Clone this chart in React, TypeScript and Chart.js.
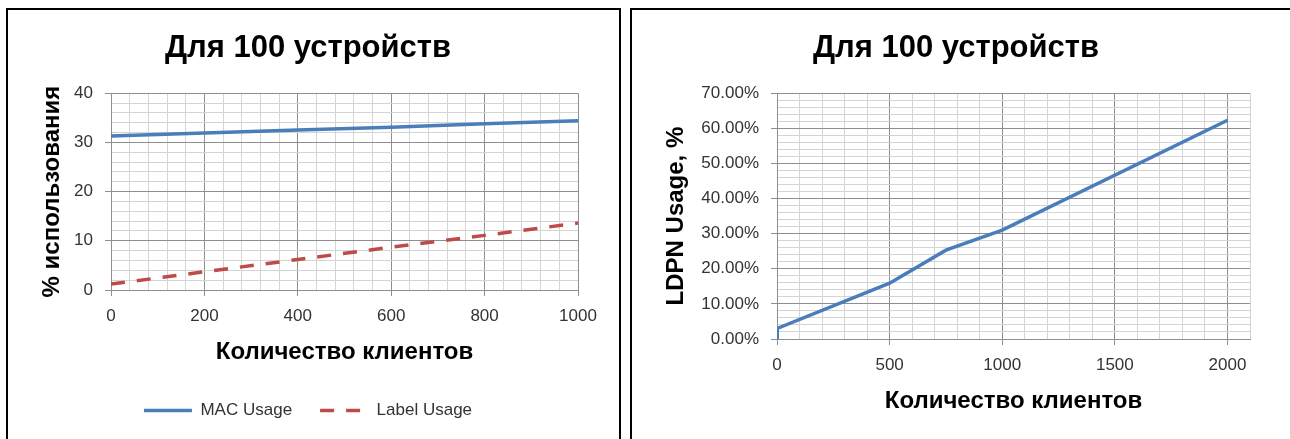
import React, { useEffect, useRef } from "react";
import { Chart, registerables } from "chart.js";

Chart.register(...registerables);

const FONT = "'Liberation Sans', Arial, sans-serif";

// ---- texts ----
const chartTitle = "Для 100 устройств";
const xAxisTitle = "Количество клиентов";
const leftYAxisTitle = "% использования";
const rightYAxisTitle = "LDPN Usage, %";
const macLabel = "MAC Usage";
const labelLabel = "Label Usage";

// ---- left chart data ----
const clients = [0, 200, 400, 600, 800, 1000];
const macUsage = [31.3, 31.9, 32.5, 33.1, 33.8, 34.4];
const labelUsage = [1.2, 3.7, 6.2, 8.7, 11.1, 13.6];

// ---- right chart data (percent) ----
const ldpnClients = [0, 1, 500, 750, 1000, 2000];
const ldpnUsage = [0, 3.0, 15.9, 25.3, 31.0, 62.3];

const BLUE = "#4A7EBB";
const RED = "#BE4B48";
const MAJOR = "#8e8e8e";
const MINOR = "#d4d4d4";
const TICK_TEXT = "#333333";

function isMultiple(v: number, m: number) {
  return Math.abs(v / m - Math.round(v / m)) < 1e-6;
}

function gridOpts(major: number) {
  return {
    color: (ctx: any) => (ctx.tick && !isMultiple(ctx.tick.value, major) ? MINOR : MAJOR),
    tickColor: (ctx: any) =>
      ctx.tick && !isMultiple(ctx.tick.value, major) ? "rgba(0,0,0,0)" : MAJOR,
    tickLength: 6,
    lineWidth: 1,
  };
}

const tickFont = { family: FONT, size: 17 };
const axisTitleFont = { family: FONT, size: 24, weight: "bold" as const };
const titleOpts = {
  display: true,
  text: chartTitle,
  color: "#000",
  font: { family: FONT, size: 31, weight: "bold" as const },
  padding: { top: 20, bottom: 26 },
};

function makeLeftConfig(): any {
  return {
    type: "line",
    data: {
      datasets: [
        {
          label: macLabel,
          data: clients.map((x, i) => ({ x, y: macUsage[i] })),
          borderColor: BLUE,
          backgroundColor: BLUE,
          borderWidth: 3.5,
          pointRadius: 0,
          tension: 0,
          fill: false,
        },
        {
          label: labelLabel,
          data: clients.map((x, i) => ({ x, y: labelUsage[i] })),
          borderColor: RED,
          backgroundColor: RED,
          borderWidth: 3.5,
          borderDash: [14, 12],
          pointRadius: 0,
          tension: 0,
          fill: false,
        },
      ],
    },
    options: {
      responsive: false,
      animation: false,
      layout: { padding: { left: 30, right: 41, top: 0, bottom: 10 } },
      plugins: {
        title: titleOpts,
        tooltip: { enabled: false },
        legend: {
          position: "bottom",
          labels: {
            usePointStyle: true,
            pointStyle: "line",
            pointStyleWidth: 48,
            padding: 28,
            color: TICK_TEXT,
            font: { family: FONT, size: 17 },
            generateLabels: (chart: any) =>
              chart.data.datasets.map((ds: any, i: number) => ({
                text: ds.label,
                strokeStyle: ds.borderColor,
                fillStyle: ds.borderColor,
                lineWidth: ds.borderWidth,
                lineDash: ds.borderDash || [],
                lineDashOffset: 0,
                lineCap: "butt",
                pointStyle: "line",
                fontColor: TICK_TEXT,
                hidden: false,
                datasetIndex: i,
              })),
          },
        },
      },
      scales: {
        x: {
          type: "linear",
          min: 0,
          max: 1000,
          ticks: {
            stepSize: 40,
            autoSkip: false,
            maxRotation: 0,
            padding: 10,
            color: TICK_TEXT,
            font: tickFont,
            callback: (v: number) => (isMultiple(v, 200) ? String(v) : ""),
          },
          grid: gridOpts(200),
          border: { color: MAJOR, width: 1 },
          title: {
            display: true,
            text: xAxisTitle,
            color: "#000",
            font: axisTitleFont,
            padding: { top: 0, bottom: 7.6 },
          },
          afterFit: (s: any) => {
            s.height = 84;
          },
        },
        y: {
          type: "linear",
          min: 0,
          max: 40,
          ticks: {
            stepSize: 2,
            autoSkip: false,
            padding: 12,
            color: TICK_TEXT,
            font: tickFont,
            callback: (v: number) => (isMultiple(v, 10) ? String(v) : ""),
          },
          grid: gridOpts(10),
          border: { color: MAJOR, width: 1 },
          title: {
            display: true,
            text: leftYAxisTitle,
            color: "#000",
            font: axisTitleFont,
            padding: { top: 0, bottom: 0 },
          },
          afterFit: (s: any) => {
            s.width = 73;
          },
        },
      },
    },
  };
}

function makeRightConfig(): any {
  return {
    type: "line",
    data: {
      datasets: [
        {
          label: rightYAxisTitle,
          data: ldpnClients.map((x, i) => ({ x, y: ldpnUsage[i] })),
          borderColor: BLUE,
          backgroundColor: BLUE,
          borderWidth: 3.5,
          pointRadius: 0,
          tension: 0,
          fill: false,
        },
      ],
    },
    options: {
      responsive: false,
      animation: false,
      layout: { padding: { left: 30, right: 40, top: 0, bottom: 0 } },
      plugins: {
        title: titleOpts,
        tooltip: { enabled: false },
        legend: { display: false },
      },
      scales: {
        x: {
          type: "linear",
          min: 0,
          max: 2100,
          ticks: {
            stepSize: 100,
            autoSkip: false,
            maxRotation: 0,
            padding: 10,
            color: TICK_TEXT,
            font: tickFont,
            callback: (v: number) => (isMultiple(v, 500) ? String(v) : ""),
          },
          grid: gridOpts(500),
          border: { color: MAJOR, width: 1 },
          title: {
            display: true,
            text: xAxisTitle,
            color: "#000",
            font: axisTitleFont,
            padding: { top: 0, bottom: 23.6 },
          },
          afterFit: (s: any) => {
            s.height = 100;
          },
        },
        y: {
          type: "linear",
          min: 0,
          max: 70,
          ticks: {
            stepSize: 2,
            autoSkip: false,
            padding: 12,
            color: TICK_TEXT,
            font: tickFont,
            callback: (v: number) => (isMultiple(v, 10) ? v.toFixed(2) + "%" : ""),
          },
          grid: gridOpts(10),
          border: { color: MAJOR, width: 1 },
          title: {
            display: true,
            text: rightYAxisTitle,
            color: "#000",
            font: axisTitleFont,
            padding: { top: 0, bottom: 0 },
          },
          afterFit: (s: any) => {
            s.width = 115;
          },
        },
      },
    },
  };
}

function ChartBox(props: {
  makeConfig: () => any;
  width: number;
  height: number;
  boxStyle: React.CSSProperties;
}) {
  const ref = useRef<HTMLCanvasElement | null>(null);
  useEffect(() => {
    if (!ref.current) return;
    const chart = new Chart(ref.current, props.makeConfig());
    return () => chart.destroy();
  }, []);
  return (
    <div style={props.boxStyle}>
      <canvas
        ref={ref}
        width={props.width}
        height={props.height}
        style={{ display: "block", width: props.width, height: props.height }}
      />
    </div>
  );
}

export default function App() {
  return (
    <>
      <style>{"body{overflow:hidden;background:#fff}"}</style>
      <ChartBox
        makeConfig={makeLeftConfig}
        width={611}
        height={429}
        boxStyle={{
          position: "absolute",
          left: 6,
          top: 8,
          width: 615,
          height: 431,
          boxSizing: "border-box",
          border: "2px solid #000",
          borderBottom: "none",
          background: "#fff",
        }}
      />
      <ChartBox
        makeConfig={makeRightConfig}
        width={658}
        height={429}
        boxStyle={{
          position: "absolute",
          left: 630,
          top: 8,
          width: 660,
          height: 431,
          boxSizing: "border-box",
          border: "2px solid #000",
          borderBottom: "none",
          borderRight: "none",
          background: "#fff",
        }}
      />
    </>
  );
}
